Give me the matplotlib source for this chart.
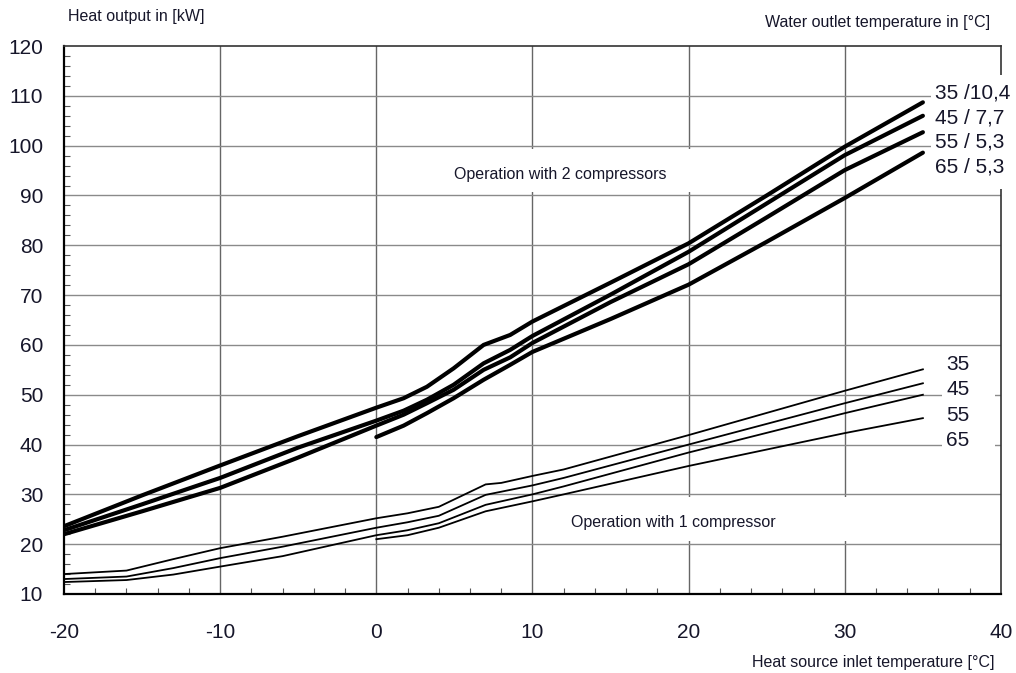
import matplotlib.pyplot as plt
from matplotlib.ticker import MultipleLocator
from matplotlib.patches import Rectangle

plt.rcParams['font.family'] = ['Liberation Sans', 'DejaVu Sans']
plt.rcParams['axes.unicode_minus'] = False

# Operation with 2 compressors (thick lines)
x_35_2 = [-20, -15, -10, -5, 0, 1.75, 3.24, 4.95, 6.87, 8.57, 10, 15, 20, 25, 30, 35]
y_35_2 = [23.6, 29.8, 35.8, 41.7, 47.4, 49.3, 51.6, 55.3, 60.0, 62.0, 64.7, 72.5, 80.4, 90.0, 99.8, 108.7]
x_45_2 = [-20, -15, -10, -5, 0, 1.75, 3.24, 4.95, 6.87, 8.57, 10, 15, 20, 25, 30, 35]
y_45_2 = [22.8, 28.0, 33.3, 39.4, 44.8, 46.8, 49.0, 52.0, 56.3, 59.0, 61.8, 70.1, 78.7, 88.4, 98.1, 106.0]
x_55_2 = [-20, -15, -10, -5, 0, 1.75, 3.24, 4.95, 6.87, 8.57, 10, 15, 20, 25, 30, 35]
y_55_2 = [22.0, 26.6, 31.3, 37.4, 43.8, 46.0, 48.3, 51.0, 55.0, 57.5, 60.4, 68.6, 76.2, 85.6, 95.1, 102.7]
x_65_2 = [0, 1.75, 3.24, 4.95, 6.87, 8.57, 10, 15, 20, 25, 30, 35]
y_65_2 = [41.5, 43.8, 46.3, 49.3, 53.0, 56.0, 58.6, 65.2, 72.1, 80.7, 89.5, 98.6]

# Operation with 1 compressor (thin lines)
x_35_1 = [-20, -16, -13, -10, -6, 0, 2, 4, 6, 7, 8, 10, 12, 20, 30, 35]
y_35_1 = [14.0, 14.7, 17.0, 19.2, 21.5, 25.2, 26.2, 27.5, 30.5, 32.0, 32.3, 33.7, 35.0, 41.9, 50.8, 55.1]
x_45_1 = [-20, -16, -13, -10, -6, 0, 2, 4, 7, 10, 12, 20, 30, 35]
y_45_1 = [13.0, 13.5, 15.2, 17.2, 19.5, 23.3, 24.4, 25.7, 29.9, 31.8, 33.3, 40.0, 48.3, 52.3]
x_55_1 = [-20, -16, -13, -10, -6, 0, 2, 4, 7, 10, 12, 20, 30, 35]
y_55_1 = [12.4, 12.8, 13.9, 15.5, 17.6, 21.8, 22.8, 24.2, 27.9, 30.0, 31.6, 38.4, 46.3, 50.0]
x_65_1 = [0, 2, 4, 7, 10, 12, 20, 30, 35]
y_65_1 = [21.0, 21.8, 23.3, 26.6, 28.6, 30.0, 35.7, 42.3, 45.3]

labels_2 = ['35 /10,4', '45 / 7,7', '55 / 5,3', '65 / 5,3']
labels_1 = ['35', '45', '55', '65']

txt = '#16162a'

fig = plt.figure(figsize=(10.16, 6.73), dpi=100)
ax = fig.add_axes([0.063, 0.1174, 0.9222, 0.8142])

ax.set_xlim(-20, 40)
ax.set_ylim(10, 120)
ax.xaxis.set_major_locator(MultipleLocator(10))
ax.yaxis.set_major_locator(MultipleLocator(10))
ax.xaxis.set_minor_locator(MultipleLocator(2))
ax.yaxis.set_minor_locator(MultipleLocator(2))
ax.tick_params(which='major', length=0, labelsize=15, labelcolor=txt)
ax.tick_params(axis='x', which='major', pad=21)
ax.tick_params(axis='y', which='major', pad=15)
ax.tick_params(which='minor', direction='in', length=4, width=0.8, color='#555555')

for v in [-10, 0, 10, 20, 30]:
    ax.axvline(v, color='#666666', lw=1.0, zorder=1)
for h in range(20, 120, 10):
    ax.axhline(h, color='#8a8a8a', lw=1.0, zorder=1)

ax.spines['left'].set_linewidth(1.6)
ax.spines['bottom'].set_linewidth(1.6)
ax.spines['top'].set_linewidth(1.2)
ax.spines['top'].set_color('#333333')
ax.spines['right'].set_linewidth(1.2)
ax.spines['right'].set_color('#333333')

# white gaps in the grid behind the annotations
for (x0, y0, w, h, z) in [(9.0, 90.7, 12.0, 8.6, 1.5), (11.5, 20.6, 20.0, 8.8, 1.5),
                          (35.5, 91.2, 7.0, 23.0, 2.6), (36.2, 38.0, 3.4, 20.0, 1.5)]:
    ax.add_patch(Rectangle((x0, y0), w, h, facecolor='white', edgecolor='none', zorder=z, clip_on=False))

for xs, ys in [(x_35_2, y_35_2), (x_45_2, y_45_2), (x_55_2, y_55_2), (x_65_2, y_65_2)]:
    ax.plot(xs, ys, color='black', lw=3.0, solid_capstyle='round', solid_joinstyle='round', zorder=3)
for xs, ys in [(x_35_1, y_35_1), (x_45_1, y_45_1), (x_55_1, y_55_1), (x_65_1, y_65_1)]:
    ax.plot(xs, ys, color='black', lw=1.3, solid_joinstyle='round', zorder=3)

for lab, yy in zip(labels_2, [110.6, 105.6, 100.8, 95.7]):
    ax.text(35.8, yy, lab, fontsize=15, color=txt, va='center', ha='left', zorder=4, clip_on=False)
for lab, yy in zip(labels_1, [56.0, 51.0, 45.9, 40.9]):
    ax.text(36.5, yy, lab, fontsize=15, color=txt, va='center', ha='left', zorder=4, clip_on=False)

ax.text(11.8, 94.3, 'Operation with 2 compressors', fontsize=11.5, color=txt, ha='center', va='center', zorder=4)
ax.text(19.0, 24.3, 'Operation with 1 compressor', fontsize=11.5, color=txt, ha='center', va='center', zorder=4)

fig.text(68 / 1016, 1 - 17 / 673, 'Heat output in [kW]', fontsize=11.5, color=txt, ha='left', va='center')
fig.text(990 / 1016, 1 - 22 / 673, 'Water outlet temperature in [°C]', fontsize=11.5, color=txt, ha='right', va='center')
fig.text(995 / 1016, 1 - 662 / 673, 'Heat source inlet temperature [°C]', fontsize=11.5, color=txt, ha='right', va='center')

fig.savefig('out.png', dpi=100)
